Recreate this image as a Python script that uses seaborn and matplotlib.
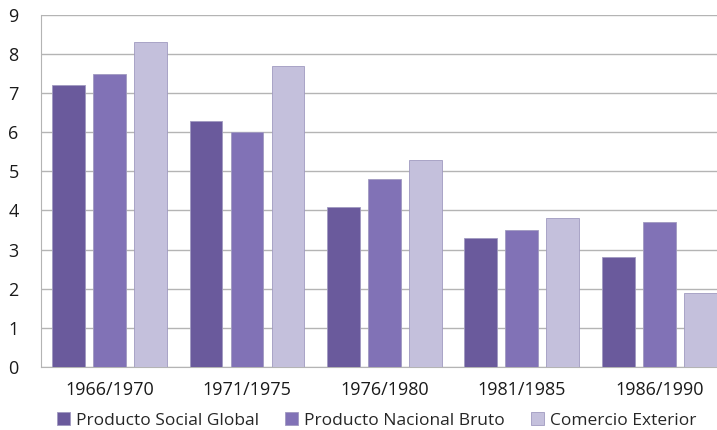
import matplotlib
matplotlib.use("Agg")
import matplotlib.pyplot as plt
import seaborn as sns
import pandas as pd

# Daten
perioden = ["1966/1970", "1971/1975", "1976/1980", "1981/1985", "1986/1990"]
producto_social = [7.2, 6.3, 4.1, 3.3, 2.8]
producto_nacional = [7.5, 6.0, 4.8, 3.5, 3.7]
comercio_exterior = [8.3, 7.7, 5.3, 3.8, 1.9]
serien = ["Producto Social Global", "Producto Nacional Bruto", "Comercio Exterior"]
farben = ["#6a5a9c", "#8172b6", "#c4c0dc"]

df = pd.DataFrame({
    "Periodo": perioden * 3,
    "Serie": [serien[0]] * 5 + [serien[1]] * 5 + [serien[2]] * 5,
    "Valor": producto_social + producto_nacional + comercio_exterior,
})

sns.set_style("white")
plt.rcParams["font.family"] = ["Open Sans", "DejaVu Sans"]

fig = plt.figure(figsize=(7.17, 4.30), dpi=100)
ax = fig.add_axes([0.057, 0.147, 0.943, 0.818])

sns.barplot(data=df, x="Periodo", y="Valor", hue="Serie", order=perioden,
            hue_order=serien, palette=farben, saturation=1, width=0.895, gap=0.2,
            edgecolor="#a09ac0", linewidth=0.6, ax=ax, zorder=3)

ax.set_ylim(0, 9)
ax.set_xlim(-0.5, 4.42)
ax.set_yticks(range(0, 10))
ax.yaxis.grid(True, color="#b4b4b4", linewidth=1, zorder=0)
ax.set_axisbelow(True)
for s in ["top", "right"]:
    ax.spines[s].set_visible(False)
ax.spines["left"].set_color("#b4b4b4")
ax.spines["bottom"].set_color("#b4b4b4")
ax.set_xlabel("")
ax.set_ylabel("")
ax.tick_params(axis="both", length=0, labelsize=13, colors="#1a1a1a")
ax.tick_params(axis="x", pad=10)
ax.tick_params(axis="y", pad=16)

ax.get_legend().remove()
handles, labels = ax.get_legend_handles_labels()
fig.legend(handles, labels, loc="center", bbox_to_anchor=(0.525, 0.022), ncol=3,
           frameon=False, fontsize=12.5, handlelength=0.75, handleheight=0.75,
           handletextpad=0.35, columnspacing=1.5, borderaxespad=0)

fig.savefig("out.png", dpi=100)
